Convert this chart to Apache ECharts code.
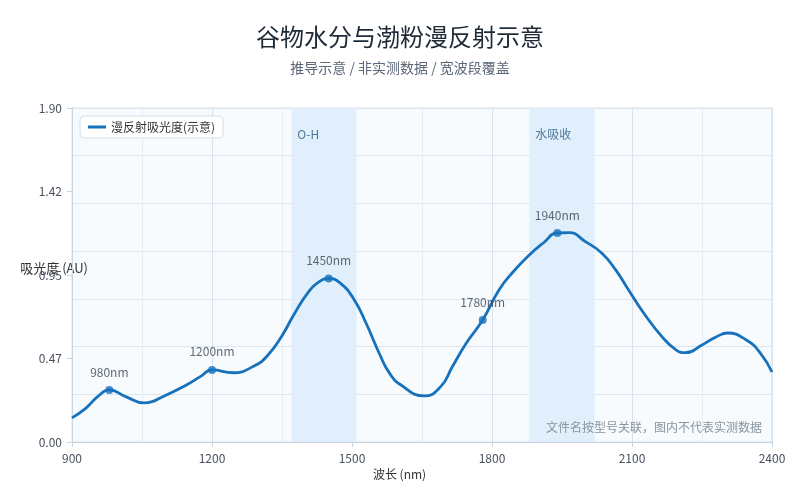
<!DOCTYPE html>
<html lang="zh">
<head>
    <meta charset="UTF-8">
    <title>谷物水分与渤粉漫反射示意</title>
    <style>
        html, body { margin: 0; padding: 0; background: #ffffff; }
    </style>
</head>
<body>
<div id="main" style="width:800px;height:500px"></div>
<script src="https://cdn.jsdelivr.net/npm/echarts@6/dist/echarts.min.js"></script>
<script>
    // 波长 (nm) 与吸光度
    var wavelength = [900, 930, 955, 980, 1015, 1055, 1100, 1145, 1175, 1200, 1245, 1290, 1320, 1350, 1375,
        1405, 1430, 1450, 1475, 1505, 1530, 1560, 1580, 1605, 1655, 1690, 1715, 1745, 1780, 1815,
        1845, 1880, 1910, 1940, 1965, 2000, 2035, 2065, 2090, 2125, 2165, 2195, 2215, 2250, 2280,
        2305, 2345, 2375, 2400];
    var absorbance = [0.137, 0.193, 0.258, 0.296, 0.258, 0.222, 0.265, 0.324, 0.372, 0.41, 0.394, 0.432, 0.495, 0.605, 0.722,
        0.847, 0.912, 0.93, 0.904, 0.808, 0.677, 0.495, 0.393, 0.324, 0.262, 0.315, 0.428, 0.563, 0.694, 0.865,
        0.967, 1.064, 1.132, 1.189, 1.191, 1.14, 1.075, 0.979, 0.876, 0.734, 0.597, 0.523, 0.508, 0.552, 0.597,
        0.62, 0.58, 0.506, 0.398];
    // 标注的特征峰
    var peakNm = [980, 1200, 1450, 1780, 1940];
    var peakVal = [0.296, 0.41, 0.93, 0.694, 1.189];
    // 吸收带
    var bandNames = ['O-H', '水吸收'];
    var bandFrom = [1370, 1880];
    var bandTo = [1510, 2020];

    var yMax = 1.9;
    var font = '"Noto Sans CJK SC", "Noto Sans", sans-serif';

    var lineData = [];
    for (var i = 0; i < wavelength.length; i++) {
        lineData.push([wavelength[i], absorbance[i]]);
    }
    var peakData = [];
    for (var j = 0; j < peakNm.length; j++) {
        peakData.push([peakNm[j], peakVal[j]]);
    }
    var bands = [];
    for (var k = 0; k < bandNames.length; k++) {
        bands.push([{ name: bandNames[k], xAxis: bandFrom[k] }, { xAxis: bandTo[k] }]);
    }

    var myChart = echarts.init(document.getElementById('main'));
    myChart.setOption({
        backgroundColor: '#ffffff',
        textStyle: { fontFamily: font },
        animation: false,
        title: {
            text: '谷物水分与渤粉漫反射示意',
            subtext: '推导示意 / 非实测数据 / 宽波段覆盖',
            left: 'center',
            top: 20,
            itemGap: 12,
            textStyle: { fontSize: 24, fontWeight: 'normal', color: '#1f2a37', fontFamily: font },
            subtextStyle: { fontSize: 14, color: '#5b6776', fontFamily: font }
        },
        legend: {
            left: 80,
            top: 116,
            data: ['漫反射吸光度(示意)'],
            icon: 'rect',
            backgroundColor: '#ffffff',
            borderColor: '#d3dde8',
            borderWidth: 1,
            borderRadius: 4,
            padding: [5, 8],
            itemWidth: 18,
            itemHeight: 3,
            textStyle: { fontSize: 12, color: '#333333', fontFamily: font }
        },
        grid: {
            left: 72,
            right: 28,
            top: 108,
            bottom: 58,
            outerBoundsMode: 'none',
            containLabel: false,
            show: true,
            backgroundColor: '#f7fbfe',
            borderColor: '#d5e0ea',
            borderWidth: 1
        },
        xAxis: {
            type: 'value',
            min: 900,
            max: 2400,
            interval: 300,
            name: '波长 (nm)',
            nameLocation: 'middle',
            nameGap: 26,
            nameMoveOverlap: false,
            nameTextStyle: { fontSize: 12, color: '#333333', padding: [0, 45, 0, 0] },
            axisLine: { lineStyle: { color: '#c9d5e1' } },
            axisTick: { show: true, length: 5, lineStyle: { color: '#c9d5e1' } },
            axisLabel: {
                fontSize: 12, color: '#4a5361', margin: 10,
                formatter: function (v) { return String(v); }
            },
            splitLine: { show: true, lineStyle: { color: '#d8e2ec' } },
            minorTick: { show: false, splitNumber: 2 },
            minorSplitLine: { show: true, lineStyle: { color: '#e6edf4' } }
        },
        yAxis: [{
            type: 'value',
            min: 0,
            max: yMax,
            interval: yMax / 4,
            name: '吸光度 (AU)',
            nameLocation: 'middle',
            nameRotate: 0,
            nameGap: -16,
            nameMoveOverlap: false,
            nameTextStyle: { fontSize: 13, color: '#333333', verticalAlign: 'bottom' },
            axisLine: { show: true, lineStyle: { color: '#c9d5e1' } },
            axisTick: { show: true, length: 5, lineStyle: { color: '#c9d5e1' } },
            axisLabel: {
                fontSize: 12, color: '#4a5361', margin: 10,
                formatter: function (v) { return (Math.floor(v * 100 + 1e-6) / 100).toFixed(2); }
            },
            splitLine: { show: false }
        }, {
            type: 'value',
            min: 0,
            max: yMax,
            interval: yMax / 7,
            position: 'left',
            axisLine: { show: false },
            axisTick: { show: false },
            axisLabel: { show: false },
            splitLine: { show: true, lineStyle: { color: '#dde6ef' } }
        }],
        series: [{
            name: '漫反射吸光度(示意)',
            type: 'line',
            data: lineData,
            smooth: 0.5,
            showSymbol: false,
            color: '#1772bd',
            lineStyle: { width: 2.8, color: '#1772bd' },
            markArea: {
                silent: true,
                itemStyle: { color: '#e0effb' },
                label: {
                    show: true,
                    position: 'insideTopLeft',
                    offset: [1, 15],
                    fontSize: 12,
                    color: '#4f7898'
                },
                data: bands
            },
            z: 3
        }, {
            name: '特征峰',
            type: 'scatter',
            data: peakData,
            symbolSize: 8,
            itemStyle: { color: '#1772bd' },
            label: {
                show: true,
                position: 'top',
                distance: 8,
                fontSize: 12,
                color: '#3a4350',
                formatter: function (p) { return p.value[0] + 'nm'; }
            },
            z: 4
        }],
        graphic: [{
            type: 'text',
            right: 38,
            top: 421,
            z: 100,
            style: {
                text: '文件名按型号关联，图内不代表实测数据',
                fontSize: 12,
                fill: '#8a949f',
                fontFamily: font
            }
        }]
    });
</script>
</body>
</html>
